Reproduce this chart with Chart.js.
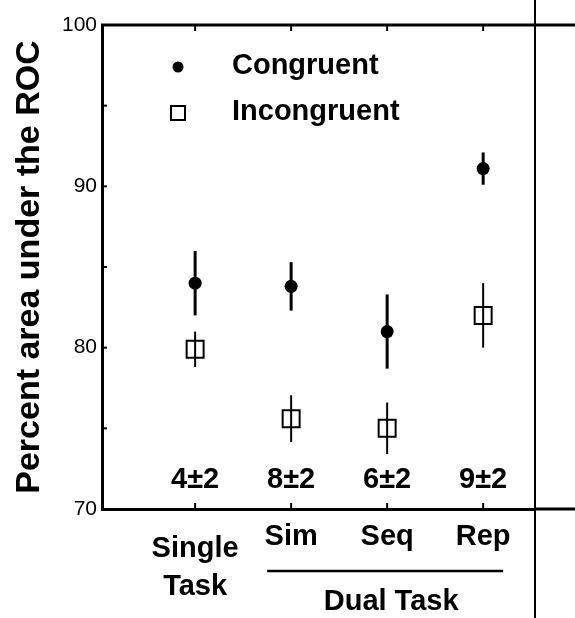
<!DOCTYPE html>
<html>
<head>
<meta charset="utf-8">
<script src="https://cdn.jsdelivr.net/npm/chart.js@4.4.1/dist/chart.umd.min.js"></script>
<style>
html, body { margin: 0; padding: 0; background: #fff; }
</style>
</head>
<body>
<canvas id="rocChart" width="575" height="618"></canvas>
<script>
// data
var categories = [['Single', 'Task'], ['Sim'], ['Seq'], ['Rep']];
var categoryPos = [1, 2, 3, 4];
var congruent = [84.0, 83.8, 81.0, 91.1];
var congruentErr = [2.0, 1.5, 2.3, 1.0];
var incongruent = [79.9, 75.6, 75.0, 82.0];
var incongruentErr = [1.1, 1.45, 1.6, 2.0];
var differences = ['4±2', '8±2', '6±2', '9±2'];
var yTicks = [70, 80, 90, 100];
var yMinorTicks = [75, 80, 85, 90, 95];
var groupLabel = 'Dual Task';

var FONT = 'Arial, "Liberation Sans", sans-serif';

function toPoints(values) {
    return categoryPos.map(function (x, i) { return { x: x, y: values[i] }; });
}

var errorBars = {
    id: 'errorBars',
    beforeDatasetsDraw: function (chart) {
        var ctx = chart.ctx;
        var xs = chart.scales.x, ys = chart.scales.y;
        ctx.save();
        ctx.strokeStyle = '#000';
        chart.data.datasets.forEach(function (ds) {
            ctx.lineWidth = ds.errWidth;
            ds.data.forEach(function (p, i) {
                var px = xs.getPixelForValue(p.x);
                ctx.beginPath();
                ctx.moveTo(px, ys.getPixelForValue(p.y + ds.errors[i]));
                ctx.lineTo(px, ys.getPixelForValue(p.y - ds.errors[i]));
                ctx.stroke();
            });
        });
        ctx.restore();
    }
};

var frameAndText = {
    id: 'frameAndText',
    afterDraw: function (chart) {
        var ctx = chart.ctx;
        var a = chart.chartArea;
        var xs = chart.scales.x, ys = chart.scales.y;
        var W = chart.width, H = chart.height;
        ctx.save();
        ctx.strokeStyle = '#000';
        ctx.fillStyle = '#000';

        // top line, running on into the next panel
        ctx.lineWidth = 3;
        ctx.beginPath();
        ctx.moveTo(a.left - 1, a.top);
        ctx.lineTo(W, a.top);
        ctx.stroke();
        // bottom line continues past the panel
        ctx.beginPath();
        ctx.moveTo(a.right, a.bottom);
        ctx.lineTo(W, a.bottom);
        ctx.stroke();
        // neighbour panel axis
        ctx.lineWidth = 2;
        ctx.beginPath();
        ctx.moveTo(a.right, 0);
        ctx.lineTo(a.right, H);
        ctx.stroke();

        // inward ticks
        ctx.lineWidth = 2;
        yMinorTicks.forEach(function (v) {
            var py = ys.getPixelForValue(v);
            ctx.beginPath();
            ctx.moveTo(a.left, py);
            ctx.lineTo(a.left + 5, py);
            ctx.stroke();
        });
        categoryPos.forEach(function (v) {
            var px = xs.getPixelForValue(v);
            ctx.beginPath();
            ctx.moveTo(px, a.top);
            ctx.lineTo(px, a.top + 6);
            ctx.moveTo(px, a.bottom);
            ctx.lineTo(px, a.bottom - 6);
            ctx.stroke();
        });

        // differences inside the plot
        ctx.font = 'bold 29px ' + FONT;
        ctx.textAlign = 'center';
        ctx.textBaseline = 'alphabetic';
        differences.forEach(function (t, i) {
            ctx.fillText(t, xs.getPixelForValue(categoryPos[i]), a.bottom - 21);
        });

        // category labels
        ctx.font = 'bold 29px ' + FONT;
        categories.forEach(function (lines, i) {
            var px = xs.getPixelForValue(categoryPos[i]);
            var base = lines.length > 1 ? a.bottom + 48 : a.bottom + 36;
            lines.forEach(function (line, k) {
                ctx.fillText(line, px, base + k * 38);
            });
        });

        // dual task bracket
        var x1 = xs.getPixelForValue(categoryPos[1]) - 24;
        var x2 = xs.getPixelForValue(categoryPos[3]) + 20;
        ctx.lineWidth = 2.5;
        ctx.beginPath();
        ctx.moveTo(x1, a.bottom + 62);
        ctx.lineTo(x2, a.bottom + 62);
        ctx.stroke();
        ctx.fillText(groupLabel, xs.getPixelForValue(categoryPos[2]) + 4, a.bottom + 101);

        // legend
        var lx = a.left + 76;
        var ds = chart.data.datasets;
        ctx.beginPath();
        ctx.arc(lx, a.top + 42, 5.5, 0, Math.PI * 2);
        ctx.fill();
        ctx.lineWidth = 2;
        ctx.strokeRect(lx - 7, a.top + 81, 14, 14);
        ctx.font = 'bold 29px ' + FONT;
        ctx.textAlign = 'left';
        ctx.textBaseline = 'middle';
        ctx.fillText(ds[0].label, a.left + 130, a.top + 41);
        ctx.fillText(ds[1].label, a.left + 130, a.top + 87);
        ctx.restore();
    }
};

var ctx = document.getElementById('rocChart').getContext('2d');
var rocChart = new Chart(ctx, {
    type: 'scatter',
    data: {
        datasets: [
            {
                label: 'Congruent',
                data: toPoints(congruent),
                errors: congruentErr,
                errWidth: 3,
                pointStyle: 'circle',
                pointRadius: 6.5,
                backgroundColor: '#000',
                borderColor: '#000',
                borderWidth: 0
            },
            {
                label: 'Incongruent',
                data: toPoints(incongruent),
                errors: incongruentErr,
                errWidth: 2,
                pointStyle: 'rect',
                pointRadius: 12,
                backgroundColor: 'rgba(0, 0, 0, 0)',
                borderColor: '#000',
                borderWidth: 2
            }
        ]
    },
    options: {
        responsive: false,
        animation: false,
        layout: {
            padding: { top: 25, right: 40, left: 0, bottom: 0 }
        },
        plugins: {
            legend: { display: false },
            tooltip: { enabled: false }
        },
        scales: {
            x: {
                type: 'linear',
                min: 0.03,
                max: 4.54,
                ticks: { display: false },
                grid: { display: false, drawTicks: false },
                border: { display: true, color: '#000', width: 3 },
                afterFit: function (scale) { scale.height = 109; }
            },
            y: {
                min: 70,
                max: 100,
                afterBuildTicks: function (scale) {
                    scale.ticks = yTicks.map(function (v) { return { value: v }; });
                },
                ticks: {
                    color: '#000',
                    padding: 5,
                    font: { family: FONT, size: 21 }
                },
                grid: { display: false, drawTicks: false },
                border: { display: true, color: '#000', width: 3 },
                title: {
                    display: true,
                    text: 'Percent area under the ROC',
                    color: '#000',
                    font: { family: FONT, size: 34, weight: 'bold' },
                    padding: { top: 9, bottom: 0 }
                },
                afterFit: function (scale) { scale.width = 102; }
            }
        }
    },
    plugins: [errorBars, frameAndText]
});
</script>
</body>
</html>
